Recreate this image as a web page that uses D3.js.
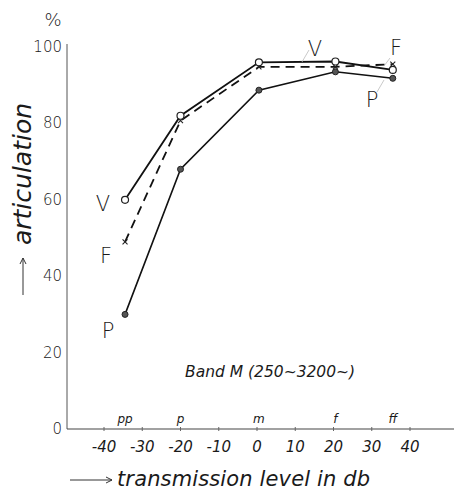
<!DOCTYPE html>
<html>
<head>
<meta charset="utf-8">
<script src="https://cdn.jsdelivr.net/npm/d3@7"></script>
<style>
  html, body { margin: 0; padding: 0; background: #fff; }
  svg text { font-family: "DejaVu Sans", sans-serif; fill: #1a1a1a; }
</style>
</head>
<body>
<svg id="chart" width="454" height="491"></svg>
<script>
// Dynamic levels (dB) at which the articulation was measured
const levels = [-34.5, -20, 0.5, 20.5, 35.5];
const levelNames = ["pp", "p", "m", "f", "ff"];

// Articulation (%) per voice type
const seriesV = [60, 82, 96, 96.2, 94];
const seriesF = [49, 80.7, 94.8, 94.8, 95.5];
const seriesP = [30, 68, 88.7, 93.5, 91.8];

const xTicks = [-40, -30, -20, -10, 0, 10, 20, 30, 40];
const yTicks = [0, 20, 40, 60, 80, 100];

const svg = d3.select("#chart");
const x = d3.scaleLinear().domain([-40, 40]).range([104, 410]);
const y = d3.scaleLinear().domain([0, 100]).range([429, 47]);

// axis lines
svg.append("line").attr("x1", 67).attr("x2", 67).attr("y1", 44).attr("y2", y(0))
  .attr("stroke", "#555").attr("stroke-width", 1);
svg.append("line").attr("x1", 67).attr("x2", 454).attr("y1", y(0)).attr("y2", y(0))
  .attr("stroke", "#444").attr("stroke-width", 1.2);

// small tick marks along the level axis
svg.selectAll(".xt").data(xTicks).join("line")
  .attr("x1", d => x(d)).attr("x2", d => x(d))
  .attr("y1", y(0) - 2).attr("y2", y(0) + 2)
  .attr("stroke", "#666").attr("stroke-width", 1);

// tick labels
svg.selectAll(".xl").data(xTicks).join("text")
  .attr("x", d => x(d)).attr("y", y(0) + 23)
  .attr("text-anchor", "middle").attr("font-size", 15).attr("font-style", "italic")
  .attr("font-weight", 300)
  .text(d => d);
svg.selectAll(".yl").data(yTicks).join("text")
  .attr("x", 62).attr("y", d => y(d) + 5)
  .attr("text-anchor", "end").attr("font-size", 15).attr("font-weight", 300)
  .text(d => d);

svg.append("text").attr("x", 53).attr("y", 26).attr("text-anchor", "middle")
  .attr("font-size", 18).attr("font-weight", 300).text("%");

// dynamic marks above the axis
svg.selectAll(".ln").data(levels).join("text")
  .attr("x", d => x(d)).attr("y", y(0) - 6)
  .attr("text-anchor", "middle").attr("font-size", 12).attr("font-style", "italic")
  .text((d, i) => levelNames[i]);

// axis titles
svg.append("text").attr("transform", "translate(31,174) rotate(-90)")
  .attr("text-anchor", "middle").attr("font-size", 25).attr("font-style", "italic")
  .attr("font-family", "DejaVu Serif").attr("font-weight", 300).text("articulation");
svg.append("text").attr("x", 117).attr("y", 486)
  .attr("font-size", 21).attr("font-family", "DejaVu Serif").attr("font-style", "italic")
  .attr("font-weight", 300).attr("textLength", 253).text("transmission level in db");

// direction arrows next to the axis titles
const arrows = [
  { x1: 23, y1: 295, x2: 23, y2: 258, head: [[20, 264], [23, 258], [26, 264]] },
  { x1: 70, y1: 480, x2: 112, y2: 480, head: [[106, 477], [112, 480], [106, 483]] }
];
arrows.forEach(a => {
  svg.append("line").attr("x1", a.x1).attr("y1", a.y1).attr("x2", a.x2).attr("y2", a.y2)
    .attr("stroke", "#333").attr("stroke-width", 1);
  svg.append("path").attr("d", d3.line()(a.head))
    .attr("fill", "none").attr("stroke", "#333").attr("stroke-width", 1);
});

svg.append("text").attr("x", 185).attr("y", 377)
  .attr("font-size", 15.5).attr("font-style", "italic").attr("font-weight", 300)
  .text("Band M (250~3200~)");

const line = d3.line().x((d, i) => x(levels[i])).y(d => y(d));

svg.append("path").datum(seriesP).attr("d", line)
  .attr("fill", "none").attr("stroke", "#111").attr("stroke-width", 1.6);
svg.append("path").datum(seriesF).attr("d", line)
  .attr("fill", "none").attr("stroke", "#111").attr("stroke-width", 1.8)
  .attr("stroke-dasharray", "9,6");
svg.append("path").datum(seriesV).attr("d", line)
  .attr("fill", "none").attr("stroke", "#111").attr("stroke-width", 1.8);

// markers
svg.selectAll(".mp").data(seriesP).join("circle")
  .attr("cx", (d, i) => x(levels[i])).attr("cy", d => y(d)).attr("r", 3)
  .attr("fill", "#555").attr("stroke", "#222").attr("stroke-width", 1);
svg.selectAll(".mf").data(seriesF).join("path")
  .attr("d", (d, i) => {
    const cx = x(levels[i]), cy = y(d), s = 2.5;
    return `M${cx - s},${cy - s}L${cx + s},${cy + s}M${cx - s},${cy + s}L${cx + s},${cy - s}`;
  })
  .attr("stroke", "#222").attr("stroke-width", 1.1);
svg.selectAll(".mv").data(seriesV).join("circle")
  .attr("cx", (d, i) => x(levels[i])).attr("cy", d => y(d)).attr("r", 3.5)
  .attr("fill", "#fff").attr("stroke", "#222").attr("stroke-width", 1.2);

// series names
const names = [
  { t: "V", x: 103, y: 211 }, { t: "F", x: 106, y: 263 }, { t: "P", x: 108, y: 338 },
  { t: "V", x: 315, y: 56 }, { t: "F", x: 396, y: 55 }, { t: "P", x: 372, y: 107 }
];
svg.selectAll(".nm").data(names).join("text")
  .attr("x", d => d.x).attr("y", d => d.y).attr("text-anchor", "middle")
  .attr("font-size", 21).attr("font-weight", 300).text(d => d.t);

// faint leader strokes from the right-hand names to their curves
const leaders = [[302, 62, 309, 50], [384, 66, 390, 58], [377, 92, 384, 80]];
svg.selectAll(".ld").data(leaders).join("line")
  .attr("x1", d => d[0]).attr("y1", d => d[1]).attr("x2", d => d[2]).attr("y2", d => d[3])
  .attr("stroke", "#bbb").attr("stroke-width", 0.8);
</script>
</body>
</html>
